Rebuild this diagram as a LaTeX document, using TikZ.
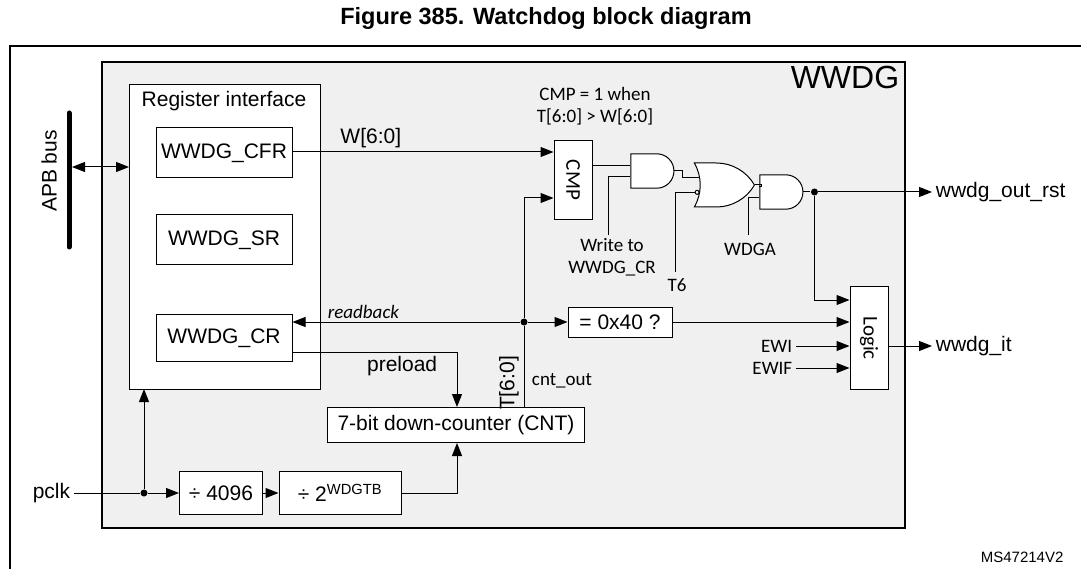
\documentclass[tikz,border=0pt]{standalone}
\usepackage{fontspec}
\setmainfont{Liberation Sans}
\newfontfamily\calfont{Carlito}
\usetikzlibrary{arrows.meta,shapes.gates.logic.US}
\definecolor{wwdgfill}{rgb}{0.941,0.941,0.941}
\tikzset{
  blk/.style={draw, fill=white, line width=1pt, inner sep=0pt, minimum width=#1},
  arr/.style={line width=1pt, -{Triangle[length=13pt,width=10pt]}},
  dot/.style={circle, fill, inner sep=0pt, minimum size=7pt},
  gate/.style={draw, fill=white, line width=1pt, minimum width=43pt, minimum height=33pt},
  cal/.style={font=\calfont\fontsize{19}{22}\selectfont},
}
\begin{document}
\begin{tikzpicture}[x=1pt, y=-1pt, line width=1pt, font=\fontsize{21}{24}\selectfont]
\useasboundingbox (0,0) rectangle (1081,569);
% frame and title
\node[font=\bfseries\fontsize{23.5}{26}\selectfont] (title) at (546,18) {Figure 385. Watchdog block diagram};
\draw[line width=1.5pt] (1090,46) -- (10,46) -- (10,580);
\node[anchor=west, font=\fontsize{15}{17}\selectfont] (ms) at (977,557) {MS47214V2};
% WWDG block
\draw[line width=2pt, fill=wwdgfill] (102,62) rectangle (905,528);
\node[anchor=north east, font=\fontsize{32}{36}\selectfont] (wwdg) at (903,62) {WWDG};
% register interface
\draw[fill=white] (129,85) rectangle (320,389);
\node (regif) at (224,101) {Register interface};
\node[blk=136pt, minimum height=50pt] (cfr) at (224,153) {WWDG\_CFR};
\node[blk=136pt, minimum height=50pt] (sr) at (224,240) {WWDG\_SR};
\node[blk=136pt, minimum height=47pt] (cr) at (224,338) {WWDG\_CR};
\coordinate (regbot) at (144,389);
\coordinate (regleft) at (129,167);
% APB bus
\draw[line width=5pt, line cap=round] (69,113) -- (69,247);
\node[rotate=90] (apb) at (49,171) {APB bus};
\draw[line width=1pt, {Triangle[length=13pt,width=10pt]}-{Triangle[length=13pt,width=10pt]}] (72,167) -- (regleft);
% compare
\node[blk=38pt, minimum height=79pt] (cmp) at (573,180) {};
\node[rotate=-90, cal, font=\calfont\fontsize{21}{24}\selectfont] at (cmp) {CMP};
\node[align=center, cal] (cmplbl) at (595,106) {CMP = 1 when\\T[6:0] > W[6:0]};
\draw[arr] (cfr.east |- 0,152) -- node[above, pos=0.3] {W[6:0]} (cmp.west |- 0,152);
% gates
\node[and gate US, gate, logic gate inputs=nn] (and1) at (651,171) {};
\node[or gate US, gate, logic gate inputs=ni, minimum height=44pt] (or1) at (720,185) {};
\node[and gate US, gate, logic gate inputs=nn] (and2) at (780,192) {};
\draw (cmp.east |- and1.input 1) -- (and1.input 1);
\draw (and1.input 2) -| (608,235);
\node[align=center, cal] (wrcr) at (612,257) {Write to\\WWDG\_CR};
\draw (and1.output) -- ++(8,0) |- (or1.input 1);
\draw (or1.input 2) -| (675,272);
\node[cal] (t6) at (677,285) {T6};
\draw (or1.output) -- ++(6,0) |- (and2.input 1);
\draw (and2.input 2) -| (748,235);
\node[cal] (wdga) at (750,249) {WDGA};
\path (and2.output) ++(11,0) node[dot] (jrst) {};
\draw (and2.output) -- (jrst);
\node[anchor=west] (rst) at (932,192) {wwdg\_out\_rst};
\draw[arr] (jrst) -- (rst.west);
% logic
\node[blk=38pt, minimum height=103pt] (logic) at (869,338) {};
\node[rotate=-90, cal, font=\calfont\fontsize{21}{24}\selectfont] at (logic) {Logic};
\draw[arr] (jrst) |- (logic.west |- 0,300);
\node[blk=104pt, minimum height=30pt] (eq) at (620,322) {= 0x40 ?};
\draw[arr] (eq.east) -- (logic.west |- eq.east);
\node[anchor=east, cal] (ewi) at (796,346) {EWI};
\node[anchor=east, cal] (ewif) at (796,368) {EWIF};
\draw[arr] (ewi.east) -- (logic.west |- ewi.east);
\draw[arr] (ewif.east) -- (logic.west |- ewif.east);
\node[anchor=west] (it) at (932,346) {wwdg\_it};
\draw[arr] (logic.east |- it.west) -- (it.west);
% counter
\node[blk=257pt, minimum height=35pt] (cnt) at (456,425) {7-bit down-counter (CNT)};
\node[dot] (jrb) at (524,322) {};
\draw (cnt.north -| jrb) -- (jrb);
\draw[arr] (jrb) |- (cmp.west |- 0,198);
\draw[arr] (jrb) -- (cr.east |- jrb);
\draw[arr] (jrb) -- (eq.west);
\node[cal, font=\calfont\itshape\fontsize{19}{22}\selectfont, anchor=south west] (rb) at (324,322) {readback};
\node[rotate=90] (tlbl) at (509,383) {T[6:0]};
\node[cal] (cntout) at (562,381) {cnt\_out};
\draw[arr] (cr.east |- 0,352) -| (cnt.north -| 457,0);
\node[anchor=east] (pre) at (441,366) {preload};
% prescaler
\node[blk=83pt, minimum height=43pt] (div1) at (221,493) {÷ 4096};
\node[blk=122pt, minimum height=43pt] (div2) at (340,493) {÷ 2\textsuperscript{WDGTB}};
\node[anchor=east] (pclk) at (74,493) {pclk};
\node[dot] (jclk) at (144,493) {};
\draw (pclk.east) -- (jclk);
\draw[arr] (jclk) -- (div1.west);
\draw[arr] (jclk) -- (regbot);
\draw[arr] (div1.east) -- (div2.west);
\draw[arr] (div2.east) -| (cnt.south -| 457,0);
\end{tikzpicture}
\end{document}
